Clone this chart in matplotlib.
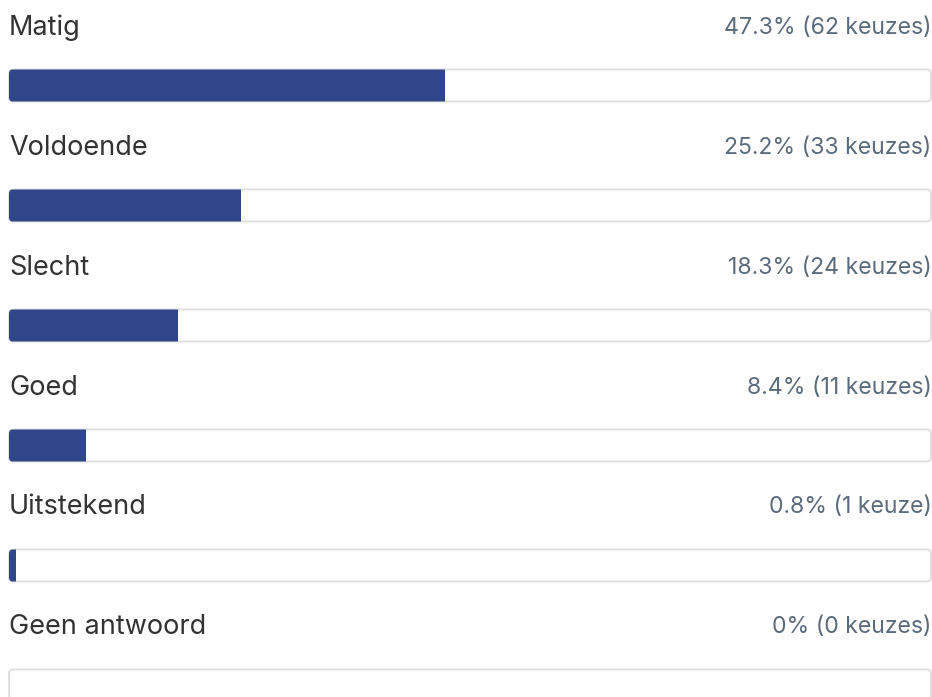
import matplotlib
matplotlib.use("Agg")
import matplotlib.pyplot as plt
from matplotlib.patches import FancyBboxPatch, Rectangle

categories = ["Matig", "Voldoende", "Slecht", "Goed", "Uitstekend", "Geen antwoord"]
percentages = [47.3, 25.2, 18.3, 8.4, 0.8, 0.0]
counts = [62, 33, 24, 11, 1, 0]
value_labels = ["47.3% (62 keuzes)", "25.2% (33 keuzes)", "18.3% (24 keuzes)",
                "8.4% (11 keuzes)", "0.8% (1 keuze)", "0% (0 keuzes)"]

W, H = 932, 697
fig = plt.figure(figsize=(W / 100, H / 100), dpi=100)
left_px, right_px = 9, 931
ax = fig.add_axes([left_px / W, 0, (right_px - left_px) / W, 1])
row_h = 120.0
track_center0 = 85.5
ax.set_xlim(0, 100)
ax.set_ylim((H - track_center0) / row_h, (0 - track_center0) / row_h)
ax.axis("off")

px_x = 100 / (right_px - left_px)
track_h = 32 / row_h
rad_px = 4
rs = rad_px * px_x
aspect = (rad_px / row_h) / rs

bar_color = "#2f4689"
for i, (cat, pct, lab) in enumerate(zip(categories, percentages, value_labels)):
    track = FancyBboxPatch((0, i - track_h / 2), 100, track_h,
                           boxstyle=f"round,pad=0,rounding_size={rs}",
                           mutation_aspect=aspect,
                           facecolor="white", edgecolor="#dedede", linewidth=1.3,
                           clip_on=False, zorder=1)
    ax.add_patch(track)
    if pct > 0:
        bar = Rectangle((0, i - track_h / 2 - 0.01), pct, track_h + 0.02,
                        facecolor=bar_color, edgecolor="none", zorder=2)
        ax.add_patch(bar)
        bar.set_clip_path(track)
    ax.text(0, i - 58 / row_h, cat, ha="left", va="center",
            fontsize=19.5, family="Inter", color="#333333")
    ax.text(100 + 0.5 * px_x, i - 58 / row_h, lab, ha="right", va="center",
            fontsize=16.6, family="Inter", color="#5b6b7c")

fig.savefig("out.png", dpi=100)
